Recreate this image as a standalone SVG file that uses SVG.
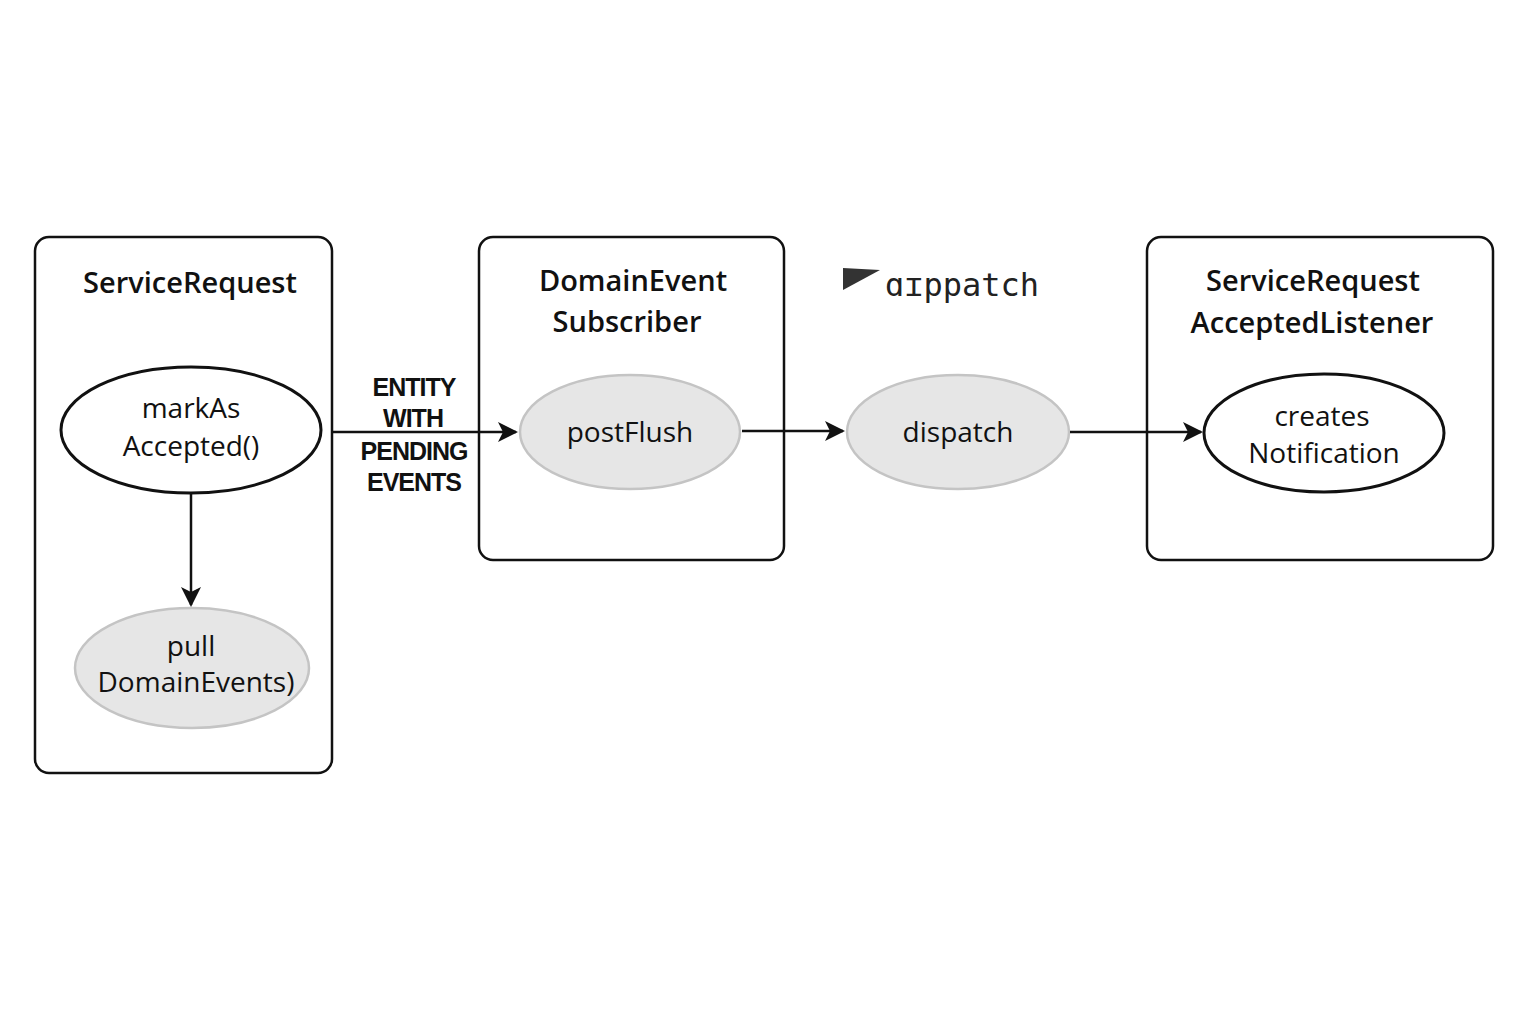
<svg xmlns="http://www.w3.org/2000/svg" width="1536" height="1024" viewBox="0 0 1536 1024">
<style>
.box{fill:#fff;stroke:#111;stroke-width:2.5}
.ow{fill:#fff;stroke:#111;stroke-width:3}
.og{fill:#e6e6e6;stroke:#c4c4c4;stroke-width:2.5}
.t{font-family:"Open Sans","Liberation Sans",sans-serif;font-size:28px;fill:#111;text-anchor:middle}
.h{font-family:"Open Sans","Liberation Sans",sans-serif;font-size:29px;fill:#111;text-anchor:middle;font-weight:600}
.lbl{font-family:"Liberation Sans",sans-serif;font-size:25px;font-weight:bold;fill:#111;text-anchor:middle;letter-spacing:-1px}
.c{stroke:#111;stroke-width:2.5;fill:none;marker-end:url(#a)}
</style>
<defs><marker id="a" viewBox="0 0 10 10" refX="9" refY="5" markerWidth="22" markerHeight="20" markerUnits="userSpaceOnUse" orient="auto"><path d="M0,0L10,5L0,10L2.5,5z" fill="#111"/></marker></defs>
<rect width="1536" height="1024" fill="#fff"/>
<g id="serviceRequest">
<rect class="box" x="35" y="237" width="297" height="536" rx="14"/>
<text class="h" x="190" y="293">ServiceRequest</text>
</g>
<g id="markAsAccepted">
<ellipse class="ow" cx="191" cy="430" rx="130" ry="63"/>
<text class="t" x="191" y="418">markAs</text><text class="t" x="191" y="456">Accepted()</text>
</g>
<g id="pullDomainEvents">
<ellipse class="og" cx="192" cy="668" rx="117" ry="60"/>
<text class="t" x="191" y="656">pull</text><text class="t" x="196" y="692">DomainEvents)</text>
</g>
<g id="domainEventSubscriber">
<rect class="box" x="479" y="237" width="305" height="323" rx="14"/>
<text class="h" x="633" y="291">DomainEvent</text><text class="h" x="627" y="332">Subscriber</text>
</g>
<g id="postFlush">
<ellipse class="og" cx="630" cy="432" rx="110" ry="57"/>
<text class="t" x="630" y="442">postFlush</text>
</g>
<g id="dispatch">
<path d="M843,268 L880,270 L843,290 Z" fill="#333"/>
<text font-family="DejaVu Sans Mono,monospace" font-size="32" fill="#222" x="885" y="296">ɑɪppatch</text>
<ellipse class="og" cx="958" cy="432" rx="111" ry="57"/>
<text class="t" x="958" y="442">dispatch</text>
</g>
<g id="acceptedListener">
<rect class="box" x="1147" y="237" width="346" height="323" rx="14"/>
<text class="h" x="1313" y="291">ServiceRequest</text><text class="h" x="1312" y="333">AcceptedListener</text>
</g>
<g id="createsNotification">
<ellipse class="ow" cx="1324" cy="433" rx="120" ry="59"/>
<text class="t" x="1322" y="426">creates</text><text class="t" x="1324" y="463">Notification</text>
</g>
<g id="connectors">
<path class="c" d="M191,493 V605"/>
<path class="c" d="M333,432 H516"/>
<path class="c" d="M742,431 H843"/>
<path class="c" d="M1070,432 H1201"/>
<g class="lbl"><text x="414" y="396">ENTITY</text><text x="413" y="427">WITH</text><text x="414" y="460">PENDING</text><text x="414" y="491">EVENTS</text></g>
</g>
</svg>
